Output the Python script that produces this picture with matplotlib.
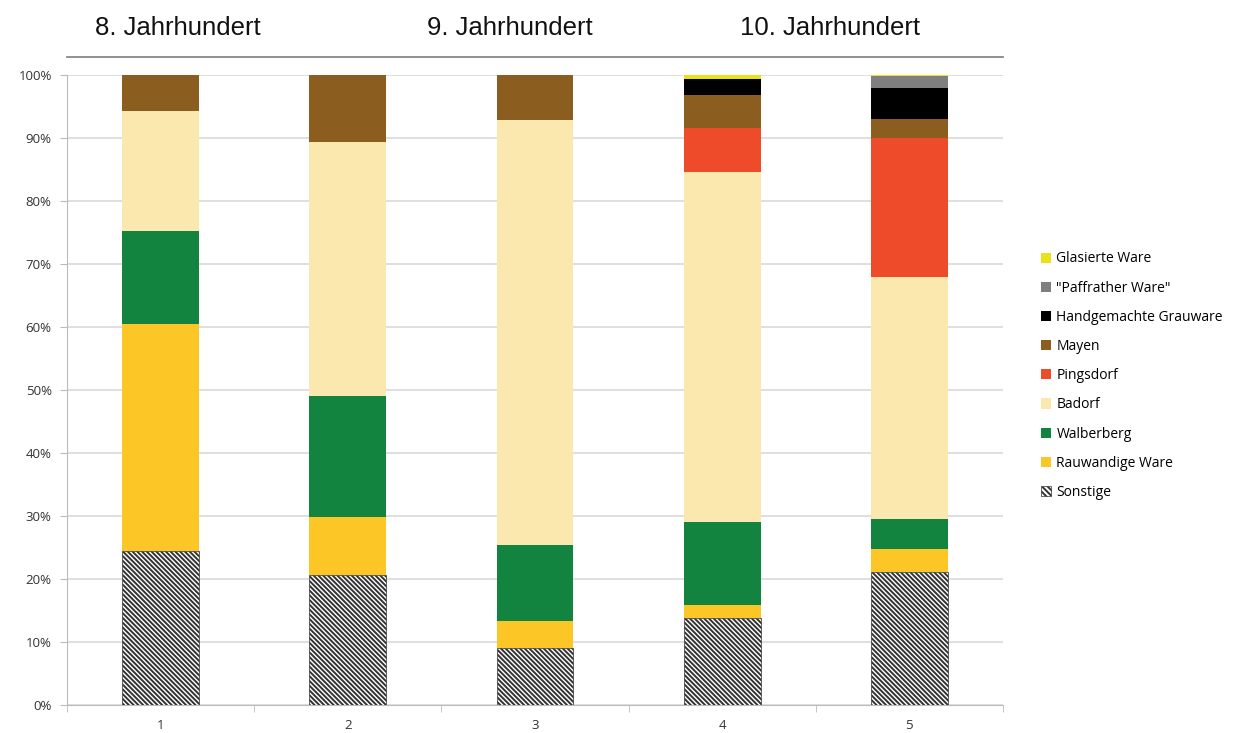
import matplotlib
matplotlib.use("Agg")
import matplotlib.pyplot as plt
import numpy as np
from matplotlib.lines import Line2D
from matplotlib.patches import Patch

categories = ["1", "2", "3", "4", "5"]
centuries = ["8. Jahrhundert", "9. Jahrhundert", "10. Jahrhundert"]

# percentages per category (bottom to top)
sonstige     = [24.4, 20.6, 9.0, 13.8, 21.1]
rauwandige   = [36.1, 9.2, 4.3, 2.1, 3.7]
walberberg   = [14.7, 19.2, 12.1, 13.1, 4.7]
badorf       = [19.1, 40.4, 67.5, 55.6, 38.4]
pingsdorf    = [0.0, 0.0, 0.0, 7.0, 22.1]
mayen        = [5.7, 10.6, 7.1, 5.3, 3.0]
handgemachte = [0.0, 0.0, 0.0, 2.4, 4.9]
paffrather   = [0.0, 0.0, 0.0, 0.0, 1.9]
glasierte    = [0.0, 0.0, 0.0, 0.7, 0.2]

series = [
    ("Sonstige", sonstige, "white"),
    ("Rauwandige Ware", rauwandige, "#FDC627"),
    ("Walberberg", walberberg, "#12843F"),
    ("Badorf", badorf, "#FAE8AE"),
    ("Pingsdorf", pingsdorf, "#EE4B2B"),
    ("Mayen", mayen, "#8B5E20"),
    ("Handgemachte Grauware", handgemachte, "#000000"),
    ('"Paffrather Ware"', paffrather, "#7F7F7F"),
    ("Glasierte Ware", glasierte, "#E8E21A"),
]

plt.rcParams['hatch.linewidth'] = 1.4
fig = plt.figure(figsize=(12.39, 7.33), dpi=100)
ax = fig.add_axes([67/1239, 1-705/733, 936/1239, 630/733])

x = np.arange(len(categories))
bottom = np.zeros(len(categories))
handles = []
for name, vals, col in series:
    v = np.array(vals) / 100.0
    if name == "Sonstige":
        ax.bar(x, v, 0.41, bottom=bottom, color="white", edgecolor="#333333",
               hatch="\\\\\\\\\\\\\\", linewidth=0.5, zorder=3)
        handles.append(Patch(facecolor="white", edgecolor="#333333", hatch="\\\\\\\\\\\\", linewidth=0.5, label=name))
    else:
        ax.bar(x, v, 0.41, bottom=bottom, color=col, linewidth=0, zorder=3)
        handles.append(Patch(facecolor=col, label=name))
    bottom += v

ax.set_xlim(-0.5, 4.5)
ax.set_ylim(0, 1.0)
ax.set_yticks(np.arange(0, 1.01, 0.1))
ax.set_yticklabels([f"{int(round(t*100))}%" for t in np.arange(0, 1.01, 0.1)],
                   fontsize=9.5, color="#333333", family=["Open Sans", "DejaVu Sans"])
ax.set_xticks(x)
ax.set_xticklabels(categories, fontsize=9.5, color="#333333", family=["Open Sans", "DejaVu Sans"])
ax.tick_params(axis="x", length=0, pad=10)
ax.set_xticks(np.arange(-0.5, 4.6, 1.0), minor=True)
ax.tick_params(axis="x", which="minor", length=5, color="#BBBBBB", direction="out")
ax.tick_params(axis="y", length=5, color="#BBBBBB", direction="out", pad=6)
ax.grid(axis="y", color="#D9D9D9", linewidth=1.2, zorder=0)
for s in ["top", "right"]:
    ax.spines[s].set_visible(False)
ax.spines["left"].set_color("#BBBBBB")
ax.spines["bottom"].set_color("#BBBBBB")

# header line
ax.add_line(Line2D([0, 1], [1.0286, 1.0286], transform=ax.transAxes, color="#888888",
                   linewidth=1.3, clip_on=False))
title_x = [178, 510, 830]
for t, px in zip(centuries, title_x):
    fig.text(px/1239, 1-28/733, t, ha="center", va="center", fontsize=18.5,
             family=["Liberation Sans Narrow", "Liberation Sans", "DejaVu Sans"], color="#111111")

leg = fig.legend(handles=handles[::-1], loc="upper left", bbox_to_anchor=(1028/1239, 1-239/733),
                 frameon=False, handlelength=0.75, handleheight=0.75,
                 labelspacing=1.02, handletextpad=0.4,
                 prop={"family": ["Open Sans", "DejaVu Sans"], "size": 10})

fig.savefig("out.png", dpi=100)
